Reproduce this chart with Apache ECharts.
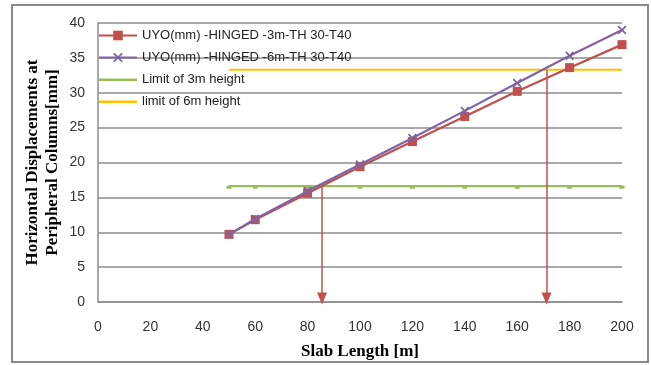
<!DOCTYPE html>
<html><head><meta charset="utf-8">
<script src="https://cdn.jsdelivr.net/npm/echarts@6/dist/echarts.min.js"></script>
<style>html,body{margin:0;padding:0;background:#fff}#c{width:651px;height:365px}</style>
</head><body><div id="c"></div>
<script>
const slabLength = [50, 60, 80, 100, 120, 140, 160, 180, 200];
const uyo3m = [9.7, 11.8, 15.6, 19.4, 23.0, 26.6, 30.2, 33.6, 36.9];
const uyo6m = [9.7, 11.9, 15.9, 19.7, 23.5, 27.4, 31.4, 35.3, 39.0];
const limit3m = [16.6, 16.6, 16.6, 16.6, 16.6, 16.6, 16.6, 16.6, 16.6];
const limit6m = [33.3, 33.3, 33.3, 33.3, 33.3, 33.3, 33.3, 33.3, 33.3];
const arrow3m = [[85.5, 16.6], [85.5, 0.5]];
const arrow6m = [[171.2, 33.3], [171.2, 0.5]];
const seriesNames = ['UYO(mm) -HINGED -3m-TH 30-T40', 'UYO(mm) -HINGED -6m-TH 30-T40', 'Limit of 3m height', 'limit of 6m height'];
const xName = 'Slab Length [m]';
const yName = 'Horizontal Displacements at\nPeripheral Columns[mm]';

const pair = (xs, ys) => xs.map((x, i) => [x, ys[i]]);
const X_SYM = 'path://M0,1.4L1.4,0L5,3.6L8.6,0L10,1.4L6.4,5L10,8.6L8.6,10L5,6.4L1.4,10L0,8.6L3.6,5Z';
const LINE_ICON = 'path://M0,0L0.01,0L0,0.01Z M0,5L38,5L38,7.4L0,7.4Z M37.99,12L38,12L38,11.99Z';
const arrowStyle = {color: '#C0504D', width: 1.5, type: 'solid'};

const chart = echarts.init(document.getElementById('c'), null, {renderer: 'canvas'});
chart.setOption({
  animation: false,
  backgroundColor: '#fff',
  textStyle: {fontFamily: 'Liberation Sans'},
  grid: {left: 98, right: 29, top: 23, bottom: 63},
  graphic: [{type: 'rect', shape: {x: 12, y: 5, width: 636, height: 357}, style: {fill: 'none', stroke: '#8a8a8a', lineWidth: 2}, z: -1}],
  legend: {
    orient: 'vertical', left: 93, top: 24, itemGap: 9, itemWidth: 38, itemHeight: 12,
    textStyle: {fontFamily: 'Liberation Sans', fontSize: 13, color: '#222'},
    data: [
      {name: seriesNames[0]},
      {name: seriesNames[1]},
      {name: seriesNames[2], icon: LINE_ICON},
      {name: seriesNames[3], icon: LINE_ICON}
    ]
  },
  xAxis: {
    type: 'value', min: 0, max: 200, interval: 20,
    name: xName, nameLocation: 'middle', nameGap: 41, nameMoveOverlap: false,
    nameTextStyle: {fontFamily: 'Liberation Serif', fontWeight: 'bold', fontSize: 17, color: '#000'},
    axisLine: {show: true, lineStyle: {color: '#8c8c8c', width: 1.5}},
    axisTick: {show: false},
    axisLabel: {fontSize: 14, color: '#333', margin: 18, fontFamily: 'Liberation Sans'},
    splitLine: {show: false}
  },
  yAxis: {
    type: 'value', min: 0, max: 40, interval: 5,
    name: yName, nameLocation: 'middle', nameGap: 35, nameMoveOverlap: false,
    nameTextStyle: {fontFamily: 'Liberation Serif', fontWeight: 'bold', fontSize: 17, color: '#000', lineHeight: 20},
    axisLine: {show: true, lineStyle: {color: '#8c8c8c', width: 1.5}},
    axisTick: {show: false},
    axisLabel: {fontSize: 14, color: '#333', margin: 13, fontFamily: 'Liberation Sans'},
    splitLine: {show: true, lineStyle: {color: '#8c8c8c', width: 1.5}}
  },
  series: [
    {name: seriesNames[0], type: 'line', data: pair(slabLength, uyo3m), symbol: 'rect', symbolSize: 9,
     lineStyle: {color: '#C0504D', width: 2.2}, itemStyle: {color: '#C0504D'}, z: 3,
     markLine: {silent: true, symbol: ['none', 'triangle'], symbolSize: [10, 12], lineStyle: arrowStyle, label: {show: false},
       data: [[{coord: arrow3m[0]}, {coord: arrow3m[1]}], [{coord: arrow6m[0]}, {coord: arrow6m[1]}]]}},
    {name: seriesNames[1], type: 'line', data: pair(slabLength, uyo6m), symbol: X_SYM, symbolSize: 9,
     lineStyle: {color: '#8064A2', width: 2.2}, itemStyle: {color: '#8064A2'}, z: 4},
    {name: seriesNames[2], type: 'line', data: pair(slabLength, limit3m), symbol: 'rect', symbolSize: [5, 3], symbolOffset: [0, 1],
     lineStyle: {color: '#9BBB59', width: 2.2}, itemStyle: {color: '#9BBB59'}, z: 2},
    {name: seriesNames[3], type: 'line', data: pair(slabLength, limit6m), symbol: 'none', showSymbol: false,
     lineStyle: {color: '#FFC000', width: 2.2}, itemStyle: {color: '#FFC000'}, z: 2}
  ]
});
</script></body></html>
